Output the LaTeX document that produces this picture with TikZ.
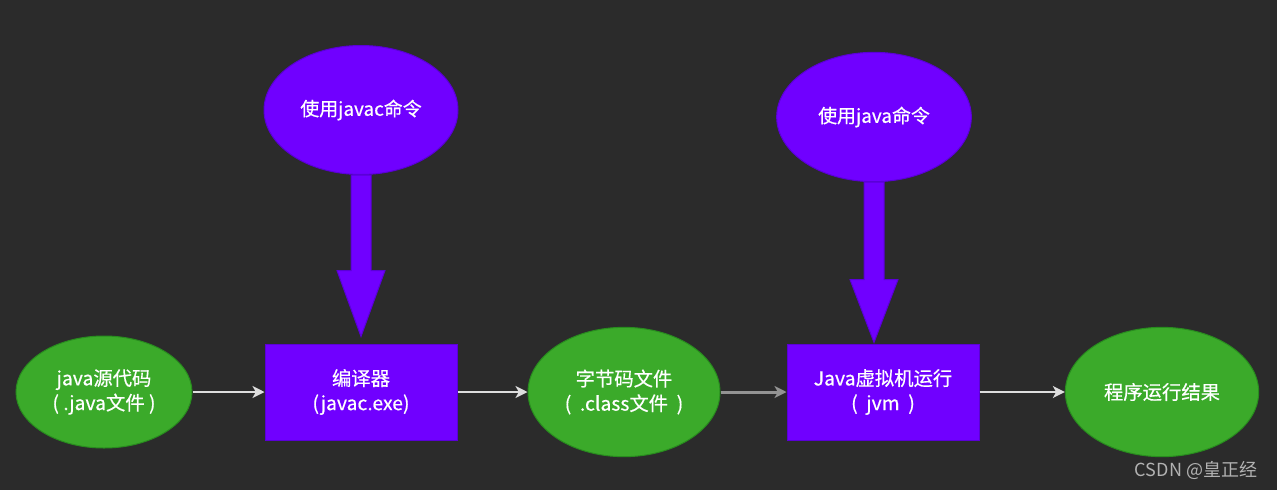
\documentclass[tikz,border=0pt]{standalone}
\usepackage{fontspec}
\setmainfont{Noto Sans CJK SC}
\newfontfamily\diagfont{Noto Sans CJK SC}[FakeBold=0.5]
\usetikzlibrary{shapes.geometric,arrows.meta,calc}

\definecolor{bgdark}{RGB}{43,43,43}
\definecolor{vmpurple}{RGB}{112,0,255}
\definecolor{vmpurpleline}{RGB}{90,0,215}
\definecolor{filegreen}{RGB}{59,170,42}
\definecolor{filegreenline}{RGB}{40,140,30}
\definecolor{flowgray}{RGB}{222,222,222}

\tikzset{every picture/.style={line width=0.75pt}}
\tikzset{
  fileellipse/.style={ellipse,draw=filegreenline,fill=filegreen,text=white,
    font=\diagfont\fontsize{14.5}{18.5}\selectfont,align=center,inner sep=0pt},
  cmdellipse/.style={ellipse,draw=vmpurpleline,fill=vmpurple,text=white,
    font=\diagfont\fontsize{14.2}{18}\selectfont,align=center,inner sep=0pt},
  toolbox/.style={rectangle,draw=vmpurpleline,fill=vmpurple,text=white,
    font=\diagfont\fontsize{14.5}{18.5}\selectfont,align=center,inner sep=0pt,
    minimum width=144pt,minimum height=72pt},
  flowarrow/.style={draw=flowgray,line width=1.5pt,-{Stealth[length=9pt,width=9pt,inset=2.5pt]}},
  fatarrow/.style={draw=vmpurpleline,fill=vmpurple,line width=0.75pt,line join=miter}
}

\begin{document}
\begin{tikzpicture}[x=0.75pt,y=0.75pt,yscale=-1,xscale=1]
%background, size of the picture
\fill[bgdark] (0,0) rectangle (1277,490);

%files and results
\node[fileellipse,minimum width=132pt,minimum height=84pt] (srcfile) at (104,392) {java源代码\\( .java文件 )};
\node[fileellipse,minimum width=144pt,minimum height=97pt] (classfile) at (624,392) {字节码文件\\(\ \ .class文件\ \ )};
\node[fileellipse,minimum width=145pt,minimum height=97pt] (result) at (1162,392) {程序运行结果};

%tools
\node[toolbox] (compiler) at (361,392) {编译器\\(javac.exe)};
\node[toolbox] (jvm) at (883,392) {Java虚拟机运行\\(\ \ jvm\ \ )};

%commands
\node[cmdellipse,minimum width=145.5pt,minimum height=96.75pt] (javaccmd) at (361,110) {使用javac命令};
\node[cmdellipse,minimum width=146pt,minimum height=97pt] (javacmd) at (874,117) {使用java命令};

%flow arrows
\draw[flowarrow] (srcfile) -- (compiler);
\draw[flowarrow] (compiler) -- (classfile);
\draw[flowarrow,draw=gray!85,line width=2.25pt] (classfile) -- (jvm);
\draw[flowarrow] (jvm) -- (result);

%fat arrows from the commands
\draw[fatarrow] ($(javaccmd.south)+(-10,0)$) -- ($(javaccmd.south)+(10,0)$)
  -- ($(javaccmd.south |- compiler.north)+(10,-73)$) -- ($(javaccmd.south |- compiler.north)+(24,-73)$)
  -- ($(javaccmd.south |- compiler.north)+(0,-7)$) -- ($(javaccmd.south |- compiler.north)+(-24,-73)$)
  -- ($(javaccmd.south |- compiler.north)+(-10,-73)$) -- cycle;
\draw[fatarrow] ($(javacmd.south)+(-10,0)$) -- ($(javacmd.south)+(10,0)$)
  -- ($(javacmd.south |- jvm.north)+(10,-64)$) -- ($(javacmd.south |- jvm.north)+(24,-64)$)
  -- ($(javacmd.south |- jvm.north)+(0,-1)$) -- ($(javacmd.south |- jvm.north)+(-24,-64)$)
  -- ($(javacmd.south |- jvm.north)+(-10,-64)$) -- cycle;

%watermark
\node[text=gray!60!white,font=\fontsize{13.5}{15}\selectfont,anchor=east] (mark) at (1262,470) {CSDN @皇正经};
\end{tikzpicture}
\end{document}
